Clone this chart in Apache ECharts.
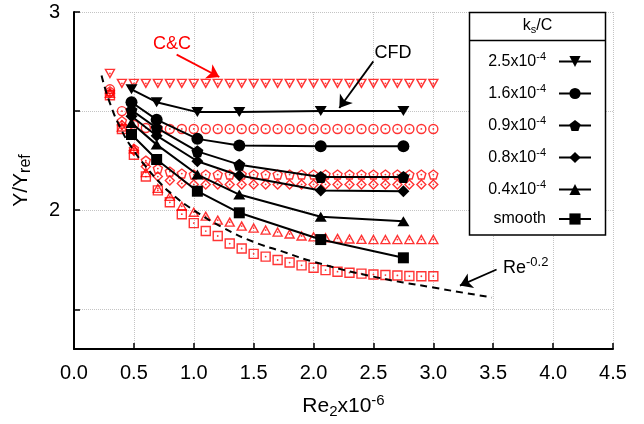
<!DOCTYPE html>
<html><head><meta charset="utf-8">
<script src="https://cdn.jsdelivr.net/npm/echarts@6/dist/echarts.min.js"></script>
<style>html,body{margin:0;padding:0;background:#fff}#c{width:644px;height:424px}</style>
</head><body><div id="c"></div>
<script>
// ---------- data ----------
const xTickValues = [0, 0.5, 1, 1.5, 2, 2.5, 3, 3.5, 4, 4.5];
const yTickValues = [1.5, 2, 2.5, 3];
const yLabelValues = [2, 3];

// C&C correlation (red, hollow markers)
const xCC = [0.3,0.4,0.5,0.6,0.7,0.8,0.9,1.0,1.1,1.2,1.3,1.4,1.5,1.6,1.7,1.8,1.9,2.0,2.1,2.2,2.3,2.4,2.5,2.6,2.7,2.8,2.9,3.0];
const ccK25 = [2.69,2.64,2.64,2.64,2.64,2.64,2.64,2.64,2.64,2.64,2.64,2.64,2.64,2.64,2.64,2.64,2.64,2.64,2.64,2.64,2.64,2.64,2.64,2.64,2.64,2.64,2.64,2.64];
const ccK16 = [2.61,2.50,2.43,2.415,2.41,2.41,2.41,2.41,2.41,2.41,2.41,2.41,2.41,2.41,2.41,2.41,2.41,2.41,2.41,2.41,2.41,2.41,2.41,2.41,2.41,2.41,2.41,2.41];
const ccK09 = [2.60,2.45,2.31,2.25,2.21,2.195,2.185,2.18,2.18,2.18,2.18,2.18,2.18,2.18,2.18,2.18,2.18,2.18,2.18,2.18,2.18,2.18,2.18,2.18,2.18,2.18,2.18,2.18];
const ccK08 = [2.59,2.43,2.30,2.22,2.17,2.15,2.135,2.13,2.13,2.13,2.13,2.13,2.13,2.13,2.13,2.13,2.13,2.13,2.13,2.13,2.13,2.13,2.13,2.13,2.13,2.13,2.13,2.13];
const ccK04 = [2.59,2.42,2.31,2.19,2.11,2.07,2.02,1.99,1.97,1.95,1.94,1.92,1.91,1.90,1.89,1.88,1.87,1.866,1.861,1.858,1.855,1.853,1.852,1.852,1.852,1.852,1.852,1.852];
const ccSmooth = [2.58,2.41,2.28,2.17,2.10,2.04,1.98,1.935,1.895,1.87,1.832,1.807,1.78,1.766,1.749,1.736,1.722,1.71,1.698,1.69,1.685,1.68,1.676,1.673,1.671,1.668,1.667,1.667];

// CFD (black, filled markers, lines)
const xCFD = [0.48, 0.69, 1.03, 1.38, 2.06, 2.75];
const cfdK25 = [2.61, 2.545, 2.495, 2.495, 2.50, 2.50];
const cfdK16 = [2.545, 2.457, 2.36, 2.326, 2.323, 2.323];
const cfdK09 = [2.505, 2.415, 2.297, 2.23, 2.168, 2.168];
const cfdK08 = [2.474, 2.376, 2.247, 2.175, 2.10, 2.096];
const cfdK04 = [2.44, 2.331, 2.18, 2.079, 1.967, 1.945];
const cfdSmooth = [2.382, 2.256, 2.096, 1.987, 1.852, 1.76];

// Re^-0.2 reference curve (dashed)
const xRe = [0.23,0.3,0.4,0.5,0.6,0.7,0.8,1.0,1.25,1.5,1.75,2.0,2.5,3.0,3.49];
const yRe = [2.68,2.54,2.40,2.30,2.22,2.15,2.09,2.00,1.91,1.84,1.79,1.74,1.665,1.61,1.56];

// legend labels
const legendBase = ['2.5x10', '1.6x10', '0.9x10', '0.8x10', '0.4x10', 'smooth'];
const legendExp  = ['-4', '-4', '-4', '-4', '-4', ''];

// annotation arrows (data coordinates): [x1, y1, x2, y2]
const arrowCC  = [0.857, 2.785, 1.213, 2.672];
const arrowCFD = [2.499, 2.751, 2.215, 2.516];
const arrowRe  = [3.528, 1.701, 3.222, 1.620];

// ---------- chart ----------
const FF = '"Liberation Sans", Arial, Helvetica, sans-serif';
const pent = 'path://M0,-1L0.951,-0.309L0.588,0.809L-0.588,0.809L-0.951,-0.309Z';
const diam = 'path://M0,-1L1,0L0,1L-1,0Z';
const arrowHead = 'path://M0,0L5,14L0,11L-5,14Z';

const names = legendBase.map((b, i) => b + (legendExp[i] ? '^' + legendExp[i] : ''));
const symbols = ['triangle', 'circle', pent, diam, 'triangle', 'rect'];
const rots = [180, 0, 0, 0, 0, 0];
const blackSizes = [[12, 10], 12, 12, 12, [12, 10], 11];
const redSizes = [[9, 8], 9, 9, 9, [9, 8], 9];
const ccAll = [ccK25, ccK16, ccK09, ccK08, ccK04, ccSmooth];
const cfdAll = [cfdK25, cfdK16, cfdK09, cfdK08, cfdK04, cfdSmooth];

const series = [];
ccAll.forEach((ys, i) => {
  series.push({
    type: 'scatter', name: 'CC ' + names[i], silent: true, z: 2,
    data: xCC.map((x, j) => [x, ys[j]]),
    symbol: symbols[i], symbolRotate: rots[i], symbolSize: redSizes[i],
    itemStyle: { color: 'rgba(255,255,255,0)', borderColor: '#ff0000', borderWidth: 1.4 }
  });
  series.push({
    type: 'scatter', name: 'CCdot ' + names[i], silent: true, z: 2,
    data: xCC.map((x, j) => [x, ys[j]]),
    symbol: 'circle', symbolSize: 1.8,
    itemStyle: { color: '#ff0000' }
  });
});
series.push({
  type: 'line', name: 'Re', smooth: true, symbol: 'none', silent: true, z: 3,
  data: xRe.map((x, j) => [x, yRe[j]]),
  lineStyle: { color: '#000', width: 2, type: [7, 5] },
  markLine: {
    silent: true, symbol: ['none', 'arrow'], symbolSize: 12,
    label: { show: false },
    lineStyle: { type: 'solid', width: 1.8 },
    data: [arrowCC, arrowCFD, arrowRe].map((a, k) => {
      const c = k === 0 ? '#ff0000' : '#000';
      return [
        { coord: [a[0], a[1]], lineStyle: { color: c, type: 'solid', width: 1.8 }, itemStyle: { color: c } },
        { coord: [a[2], a[3]], symbol: 'arrow', symbolSize: 12, itemStyle: { color: c } }
      ];
    })
  }
});
cfdAll.forEach((ys, i) => {
  series.push({
    type: 'line', name: names[i], z: 4,
    data: xCFD.map((x, j) => [x, ys[j]]),
    symbol: symbols[i], symbolRotate: rots[i], symbolSize: blackSizes[i], showAllSymbol: true,
    lineStyle: { color: '#000', width: 2 },
    itemStyle: { color: '#000' }
  });
});

const legendRowsTop = [58, 90, 122, 154, 186, 218];
const legends = names.map((n, i) => ({
  data: [n], orient: 'vertical', right: 52, top: legendRowsTop[i] - 7,
  align: 'right', itemWidth: 32, itemHeight: 14, padding: 0, selectedMode: false, z: 6,
  formatter: () => '{a|' + legendBase[i] + '}' + (legendExp[i] ? '{p|' + legendExp[i] + '}' : '') + '{g|}',
  textStyle: {
    color: '#000', fontFamily: FF, fontSize: 16,
    rich: {
      a: { fontSize: 16, fontFamily: FF, color: '#000' },
      p: { fontSize: 11, fontFamily: FF, color: '#000', padding: [0, 0, 10, 0] },
      g: { width: 8 }
    }
  }
}));

const option = {
  animation: false,
  backgroundColor: '#fff',
  textStyle: { fontFamily: FF },
  grid: { left: 74, right: 31, top: 12, bottom: 75, containLabel: false },
  xAxis: {
    type: 'value', min: 0, max: 4.5, interval: 0.5,
    axisLine: { show: true, lineStyle: { color: '#000', width: 2 } },
    axisTick: { show: true, inside: true, length: 6, lineStyle: { color: '#000', width: 1.5 } },
    axisLabel: { fontSize: 20, color: '#000', margin: 14, fontFamily: FF, formatter: v => v.toFixed(1) },
    splitLine: { show: true, lineStyle: { color: '#c4c4c4', type: 'dotted', width: 1 } },
    name: '{a|Re}{b|2}{a|x10}{p|-6}', nameLocation: 'middle', nameGap: 44,
    nameTextStyle: {
      rich: {
        a: { fontSize: 21, fontFamily: FF, color: '#000' },
        b: { fontSize: 15, fontFamily: FF, color: '#000', padding: [10, 0, 0, 0] },
        p: { fontSize: 15, fontFamily: FF, color: '#000', padding: [0, 0, 12, 0] }
      }
    }
  },
  yAxis: {
    type: 'value', min: 1.3, max: 3,
    axisLine: { show: true, lineStyle: { color: '#000', width: 2 } },
    axisTick: { show: true, inside: true, length: 6, customValues: yTickValues, lineStyle: { color: '#000', width: 1.5 } },
    axisLabel: { customValues: yLabelValues, fontSize: 20, color: '#000', margin: 14, fontFamily: FF, formatter: v => String(v) },
    splitLine: { show: true, lineStyle: { color: '#c4c4c4', type: 'dotted', width: 1 } },
    name: '{a|Y/Y}{b|ref}', nameLocation: 'middle', nameGap: 40,
    nameTextStyle: {
      rich: {
        a: { fontSize: 21, fontFamily: FF, color: '#000' },
        b: { fontSize: 16, fontFamily: FF, color: '#000', padding: [10, 0, 0, 0] }
      }
    }
  },
  legend: legends,
  graphic: [
    { type: 'rect', z: 3, shape: { x: 469.5, y: 12.5, width: 136, height: 222.5 },
      style: { fill: '#fff', stroke: '#000', lineWidth: 1.5 } },
    { type: 'line', z: 5, shape: { x1: 469.5, y1: 40.5, x2: 605.5, y2: 40.5 },
      style: { stroke: '#000', lineWidth: 1.5 } },
    { type: 'text', z: 5, x: 537.5, y: 26,
      style: { text: '{a|k}{b|s}{a|/C}', align: 'center', verticalAlign: 'middle',
        rich: { a: { fontSize: 16, fontFamily: FF, fill: '#000' }, b: { fontSize: 11, fontFamily: FF, fill: '#000', padding: [8, 0, 0, 0] } } } },
    { type: 'text', z: 5, x: 172, y: 44,
      style: { text: 'C&C', fontSize: 18, fontFamily: FF, fill: '#ff0000', align: 'center', verticalAlign: 'middle' } },
    { type: 'text', z: 5, x: 393, y: 53,
      style: { text: 'CFD', fontSize: 18, fontFamily: FF, fill: '#000', align: 'center', verticalAlign: 'middle' } },
    { type: 'text', z: 5, x: 503, y: 268,
      style: { text: '{a|Re}{p|-0.2}', align: 'left', verticalAlign: 'middle',
        rich: { a: { fontSize: 18, fontFamily: FF, fill: '#000' }, p: { fontSize: 13, fontFamily: FF, fill: '#000', padding: [0, 0, 11, 0] } } } }
  ],
  series: series
};

const chart = echarts.init(document.getElementById('c'), null, { renderer: 'canvas' });
chart.setOption(option);
</script>
</body></html>
